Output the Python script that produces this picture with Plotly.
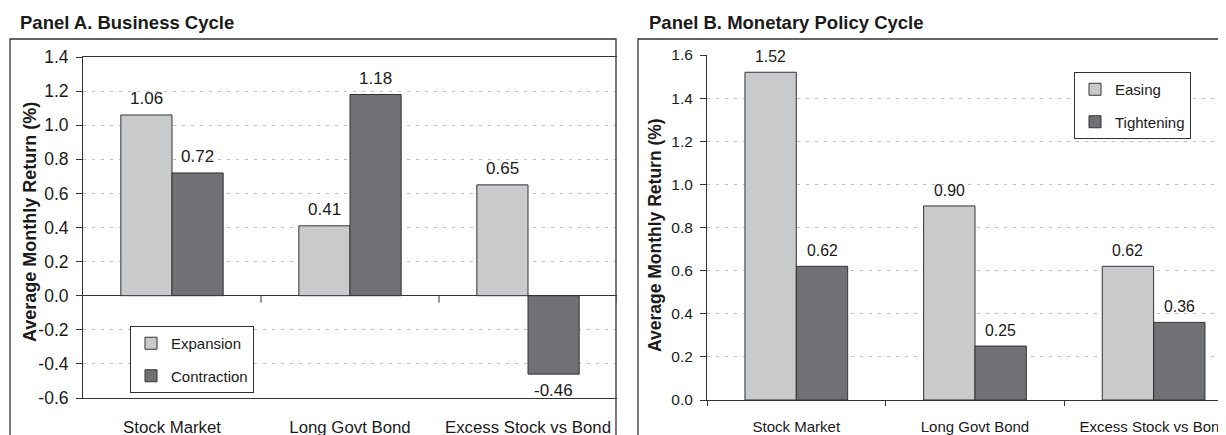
import plotly.graph_objects as go

# ---------------- data ----------------
categories = ["Stock Market", "Long Govt Bond", "Excess Stock vs Bond"]

panel_a_title = "Panel A. Business Cycle"
expansion = [1.06, 0.41, 0.65]
contraction = [0.72, 1.18, -0.46]

panel_b_title = "Panel B. Monetary Policy Cycle"
easing = [1.52, 0.90, 0.62]
tightening = [0.62, 0.25, 0.36]

y_title = "Average Monthly Return (%)"
a_ticks = [-0.6, -0.4, -0.2, 0.0, 0.2, 0.4, 0.6, 0.8, 1.0, 1.2, 1.4]
a_tick_labels = ["-0.6", "-0.4", "-0.2", "0.0", "0.2", "0.4", "0.6", "0.8", "1.0", "1.2", "1.4"]
b_ticks = [0.0, 0.2, 0.4, 0.6, 0.8, 1.0, 1.2, 1.4, 1.6]
b_tick_labels = ["0.0", "0.2", "0.4", "0.6", "0.8", "1.0", "1.2", "1.4", "1.6"]

# ---------------- style ----------------
W, H = 1226, 435
OFF = 8  # page body margin
FONT = "Liberation Sans, Arial, Helvetica, sans-serif"
LIGHT = "#c9cacc"
DARK = "#707175"
EDGE = "#333333"
TXT = "#1a1a1a"
BARGAP = 0.425


def px_x(p):
    return min(1.0, (p - OFF) / W)


def px_y(p):
    return 1 - (p - OFF) / H


fig = go.Figure()


def add_pair(names, series, xa, ya, legend):
    for name, vals, col in zip(names, series, [LIGHT, DARK]):
        fig.add_trace(go.Bar(
            x=categories, y=vals, name=name, xaxis=xa, yaxis=ya,
            marker=dict(color=col, line=dict(color=EDGE, width=1)),
            legend=legend, legendgroup=legend + name, hoverinfo="x+y",
        ))


add_pair(["Expansion", "Contraction"], [expansion, contraction], "x", "y", "legend")
add_pair(["Easing", "Tightening"], [easing, tightening], "x2", "y2", "legend2")

# value labels above / below bars
bw = (1 - BARGAP) / 2
annotations = []
for xa, ya, series, fs in [("x", "y", [expansion, contraction], 17),
                           ("x2", "y2", [easing, tightening], 15.8)]:
    for k, vals in enumerate(series):
        off = (k - 0.5) * bw
        for i, v in enumerate(vals):
            annotations.append(dict(
                x=i + off, y=v, xref=xa, yref=ya, text=f"{v:.2f}", showarrow=False,
                yanchor="bottom" if v >= 0 else "top", yshift=5 if v >= 0 else -5,
                font=dict(family=FONT, size=fs, color=TXT),
            ))

# panel titles
annotations.append(dict(x=px_x(18), y=px_y(22), xref="paper", yref="paper", text=f"<b>{panel_a_title}</b>",
                        showarrow=False, xanchor="left", yanchor="middle",
                        font=dict(family=FONT, size=18.5, color=TXT)))
annotations.append(dict(x=px_x(647), y=px_y(22), xref="paper", yref="paper", text=f"<b>{panel_b_title}</b>",
                        showarrow=False, xanchor="left", yanchor="middle",
                        font=dict(family=FONT, size=18.5, color=TXT)))
# y titles
annotations.append(dict(x=px_x(30), y=px_y(222), xref="paper", yref="paper", text=f"<b>{y_title}</b>",
                        showarrow=False, textangle=-90, xanchor="center", yanchor="middle",
                        font=dict(family=FONT, size=18, color=TXT)))
annotations.append(dict(x=px_x(655), y=px_y(235), xref="paper", yref="paper", text=f"<b>{y_title}</b>",
                        showarrow=False, textangle=-90, xanchor="center", yanchor="middle",
                        font=dict(family=FONT, size=17.5, color=TXT)))

shapes = [
    # outer frames
    dict(type="rect", xref="paper", yref="paper", x0=px_x(10), x1=px_x(616), y0=-0.1, y1=px_y(39),
         line=dict(color=EDGE, width=1.3), layer="above"),
    dict(type="rect", xref="paper", yref="paper", x0=px_x(638), x1=1.1, y0=-0.1, y1=px_y(39),
         line=dict(color=EDGE, width=1.3), layer="above"),
]
# boundary ticks on the zero line of panel A
for b in [0.5, 1.5, 2.5]:
    shapes.append(dict(type="line", xref="x", yref="y", x0=b, x1=b, ysizemode="pixel", yanchor=0,
                       y0=0, y1=-7, line=dict(color=EDGE, width=1)))

grid = dict(showgrid=True, gridcolor="#bdbdbd", griddash="3px,6px", gridwidth=1)


def ytick(fs):
    return dict(ticks="outside", ticklen=6, tickcolor=EDGE, tickwidth=1,
                tickfont=dict(family=FONT, size=fs, color=TXT),
                showline=True, linecolor=EDGE, linewidth=1, ticklabelstandoff=4, automargin=False)


fig.update_layout(
    width=W, height=H, margin=dict(l=0, r=0, t=0, b=0, autoexpand=False),
    paper_bgcolor="white", plot_bgcolor="white",
    barmode="group", bargap=BARGAP, bargroupgap=0,
    showlegend=True,
    font=dict(family=FONT, color=TXT),
    xaxis=dict(domain=[px_x(83), px_x(617)], anchor="y", type="category", range=[-0.5, 2.5],
               showline=True, linecolor=EDGE, linewidth=1, mirror=True, ticks="",
               tickfont=dict(family=FONT, size=16.8, color=TXT), ticklabelstandoff=14,
               showgrid=False, fixedrange=True, automargin=False),
    yaxis=dict(domain=[px_y(398), px_y(57)], anchor="x", range=[-0.6, 1.4], tickvals=a_ticks,
               ticktext=a_tick_labels,
               zeroline=True, zerolinecolor=EDGE, zerolinewidth=1.2, **grid, **ytick(17.5)),
    xaxis2=dict(domain=[px_x(707), px_x(1234)], anchor="y2", type="category", range=[-0.5, 2.45],
                showline=True, linecolor=EDGE, linewidth=1, ticks="outside", tickson="boundaries",
                ticklen=5, tickcolor=EDGE, tickfont=dict(family=FONT, size=15, color=TXT),
                ticklabelstandoff=13, showgrid=False, fixedrange=True, automargin=False),
    yaxis2=dict(domain=[px_y(400), px_y(55)], anchor="x2", range=[0, 1.6], tickvals=b_ticks,
                ticktext=b_tick_labels, zeroline=False, **grid, **ytick(15.5)),
    legend=dict(x=px_x(130), y=px_y(326), xanchor="left", yanchor="top",
                bordercolor=EDGE, borderwidth=1, bgcolor="white",
                font=dict(family=FONT, size=15, color=TXT), traceorder="grouped", tracegroupgap=10),
    legend2=dict(x=px_x(1074), y=px_y(72), xanchor="left", yanchor="top",
                 bordercolor=EDGE, borderwidth=1, bgcolor="white",
                 font=dict(family=FONT, size=15, color=TXT), traceorder="grouped", tracegroupgap=10),
    annotations=annotations, shapes=shapes,
)

fig.write_html("out.html")
